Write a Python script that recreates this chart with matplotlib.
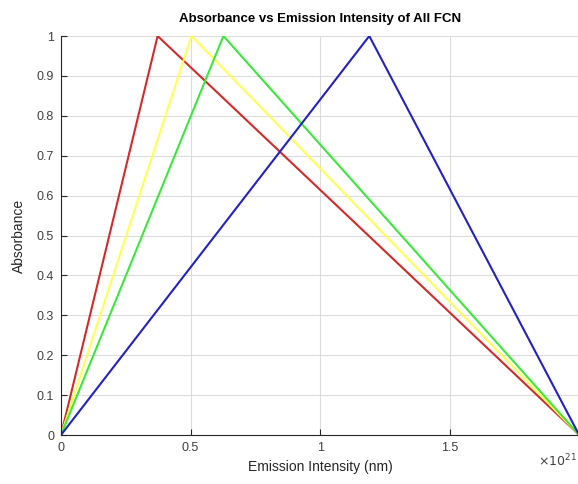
import matplotlib
matplotlib.use('Agg')
import matplotlib.pyplot as plt

plt.rcParams['font.family'] = ['Liberation Sans', 'DejaVu Sans']

# peak positions (x 1e21) for each FCN, all rising from 0 to 1 and back to 0 at 2e21
peak_x = [0.373, 0.504, 0.627, 1.19]
colors = ['#d42a2a', '#ffff55', '#3be83b', '#2222c4']
x_end = 2.0
xticks = [0, 0.5, 1, 1.5]
yticks = [0, 0.1, 0.2, 0.3, 0.4, 0.5, 0.6, 0.7, 0.8, 0.9, 1]

fig = plt.figure(figsize=(5.78, 4.84), dpi=100)
ax = fig.add_axes([0.1055, 0.1012, 0.8965, 0.8244])

for px, c in zip(peak_x, colors):
    ax.plot([0, px, x_end], [0, 1, 0], color=c, lw=1.5)

ax.set_xlim(0, x_end)
ax.set_ylim(0, 1)
ax.set_xticks(xticks)
ax.set_xticklabels(['0', '0.5', '1', '1.5'])
ax.set_yticks(yticks)
ax.set_yticklabels(['0', '0.1', '0.2', '0.3', '0.4', '0.5', '0.6', '0.7', '0.8', '0.9', '1'])
ax.grid(True, color='#dcdcdc', lw=0.8)
ax.set_axisbelow(True)
ax.tick_params(direction='in', length=4, labelsize=9, colors='#262626', labelcolor='#404040', pad=5)
for s in ['top', 'right']:
    ax.spines[s].set_visible(False)
for s in ['left', 'bottom']:
    ax.spines[s].set_color('#262626')

ax.set_title('Absorbance vs Emission Intensity of All FCN', fontsize=9.5, fontweight='bold', pad=10)
ax.set_xlabel('Emission Intensity (nm)', fontsize=10, color='#262626', labelpad=4)
ax.set_ylabel('Absorbance', fontsize=10, color='#262626', labelpad=8)
fig.text(0.998, 0.036, r'$\times10^{21}$', fontsize=9, color='#404040', ha='right')

fig.savefig('out.png', dpi=100)
